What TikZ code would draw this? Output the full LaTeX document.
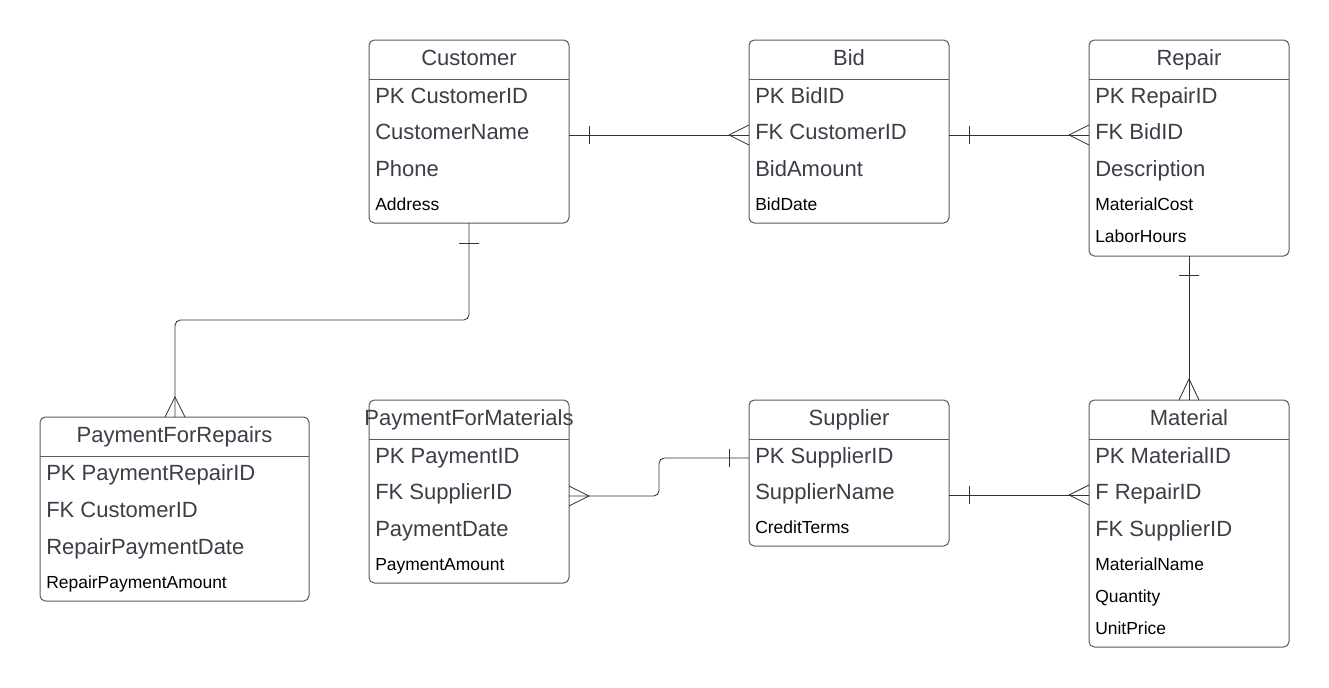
\documentclass[tikz,border=0pt]{standalone}
\usepackage{fontspec}
\setmainfont{Liberation Sans}
\usetikzlibrary{calc}
\definecolor{txtgray}{HTML}{3A3F47}
\definecolor{boxedge}{HTML}{5C5C5C}
\definecolor{lineclr}{HTML}{333333}
\tikzset{
  ent/.style={draw=boxedge, line width=0.75pt, rounded corners=4pt, inner sep=0pt, outer sep=0pt},
  ttl/.style={anchor=center, inner sep=0pt, text height=11.8pt, text depth=0pt, text=txtgray, font=\fontsize{16.5}{18}\selectfont},
  big/.style={anchor=west, inner sep=0pt, text height=11.8pt, text depth=0pt, text=txtgray, font=\fontsize{16.5}{18}\selectfont},
  small/.style={anchor=west, inner sep=0pt, text height=9.4pt, text depth=0pt, text=black, font=\fontsize{13.1}{15}\selectfont},
  hdr/.style={draw=boxedge, line width=0.75pt},
  conn/.style={draw=lineclr, line width=0.65pt},
}
\newcommand\entity[6]{%
  \node[ent, minimum width={(#4-#2)*0.75pt}, minimum height={(#5-#3)*0.75pt}] (#1) at ({(#2+#4)/2},{(#3+#5)/2}) {};
  \node[ttl] (#1-t) at ({(#2+#4)/2},{#3+17.5}) {#6};
  \draw[hdr] (#2,{#3+39.5}) -- (#4,{#3+39.5});
}
\begin{document}
\begin{tikzpicture}[x=0.75pt,y=-0.75pt]
\useasboundingbox[fill=white] (0,0) rectangle (1329,687);

% Customer
\entity{cust}{369}{40}{569}{223}{Customer}
\node[big] (cust-pk) at (375,96) {PK CustomerID};
\node[big] (cust-nm) at (375,132) {CustomerName};
\node[big] (cust-ph) at (375,169) {Phone};
\node[small] (cust-ad) at (375,204) {Address};

% Bid
\entity{bid}{749}{40}{949}{223}{Bid}
\node[big] (bid-pk) at (755,96) {PK BidID};
\node[big] (bid-fk) at (755,132) {FK CustomerID};
\node[big] (bid-am) at (755,169) {BidAmount};
\node[small] (bid-dt) at (755,204) {BidDate};

% Repair
\entity{rep}{1089}{40}{1289}{256}{Repair}
\node[big] (rep-pk) at (1095,96) {PK RepairID};
\node[big] (rep-fk) at (1095,132) {FK BidID};
\node[big] (rep-ds) at (1095,169) {Description};
\node[small] (rep-mc) at (1095,204) {MaterialCost};
\node[small] (rep-lh) at (1095,236) {LaborHours};

% PaymentForRepairs
\entity{pfr}{40}{417}{309}{601}{PaymentForRepairs}
\node[big] (pfr-pk) at (46,473) {PK PaymentRepairID};
\node[big] (pfr-fk) at (46,510) {FK CustomerID};
\node[big] (pfr-dt) at (46,547) {RepairPaymentDate};
\node[small] (pfr-am) at (46,582) {RepairPaymentAmount};

% PaymentForMaterials
\entity{pfm}{369}{400}{569}{583}{PaymentForMaterials}
\node[big] (pfm-pk) at (375,456) {PK PaymentID};
\node[big] (pfm-fk) at (375,492) {FK SupplierID};
\node[big] (pfm-dt) at (375,529) {PaymentDate};
\node[small] (pfm-am) at (375,564) {PaymentAmount};

% Supplier
\entity{sup}{749}{400}{949}{546}{Supplier}
\node[big] (sup-pk) at (755,456) {PK SupplierID};
\node[big] (sup-nm) at (755,492) {SupplierName};
\node[small] (sup-ct) at (755,527) {CreditTerms};

% Material
\entity{mat}{1089}{400}{1289}{647}{Material}
\node[big] (mat-pk) at (1095,456) {PK MaterialID};
\node[big] (mat-fr) at (1095,492) {F RepairID};
\node[big] (mat-fs) at (1095,529) {FK SupplierID};
\node[small] (mat-nm) at (1095,564) {MaterialName};
\node[small] (mat-qt) at (1095,596) {Quantity};
\node[small] (mat-up) at (1095,628) {UnitPrice};

% Customer -- Bid
\coordinate (cb1) at (cust.east |- 0,135);
\coordinate (cb2) at (bid.west |- 0,135);
\draw[conn] (cb1) -- (cb2);
\draw[conn] ($(cb1)+(20,-9)$) -- ($(cb1)+(20,9)$);
\draw[conn] ($(cb2)+(0,-10)$) -- ($(cb2)+(-20,0)$) -- ($(cb2)+(0,10)$);

% Bid -- Repair
\coordinate (br1) at (bid.east |- 0,135);
\coordinate (br2) at (rep.west |- 0,135);
\draw[conn] (br1) -- (br2);
\draw[conn] ($(br1)+(20,-9)$) -- ($(br1)+(20,9)$);
\draw[conn] ($(br2)+(0,-10)$) -- ($(br2)+(-20,0)$) -- ($(br2)+(0,10)$);

% Customer -- PaymentForRepairs
\coordinate (cp1) at (cust.south);
\coordinate (cp2) at (175,417);
\draw[conn, rounded corners=4pt] (cp1) -- (469,320) -- (175,320) -- (cp2);
\draw[conn] ($(cp1)+(-10,20)$) -- ($(cp1)+(10,20)$);
\draw[conn] ($(cp2)+(-10,0)$) -- ($(cp2)+(0,-20)$) -- ($(cp2)+(10,0)$);

% Repair -- Material
\coordinate (rm1) at (rep.south);
\coordinate (rm2) at (mat.north);
\draw[conn] (rm1) -- (rm2);
\draw[conn] ($(rm1)+(-10,19)$) -- ($(rm1)+(10,19)$);
\draw[conn] ($(rm2)+(-10,0)$) -- ($(rm2)+(0,-21)$) -- ($(rm2)+(10,0)$);

% Supplier -- PaymentForMaterials
\coordinate (sp1) at (sup.west |- 0,458);
\coordinate (sp2) at (pfm.east |- 0,496);
\draw[conn, rounded corners=4pt] (sp1) -- (659,458) -- (659,496) -- (sp2);
\draw[conn] ($(sp1)+(-20,-9)$) -- ($(sp1)+(-20,9)$);
\draw[conn] ($(sp2)+(0,-10)$) -- ($(sp2)+(20,0)$) -- ($(sp2)+(0,10)$);

% Supplier -- Material
\coordinate (sm1) at (sup.east |- 0,495);
\coordinate (sm2) at (mat.west |- 0,495);
\draw[conn] (sm1) -- (sm2);
\draw[conn] ($(sm1)+(20,-9)$) -- ($(sm1)+(20,9)$);
\draw[conn] ($(sm2)+(0,-10)$) -- ($(sm2)+(-20,0)$) -- ($(sm2)+(0,10)$);
\end{tikzpicture}
\end{document}
